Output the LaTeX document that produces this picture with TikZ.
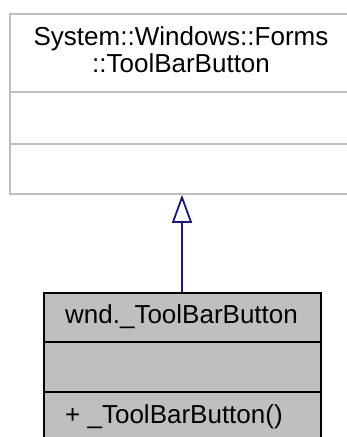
\documentclass[tikz,border=0pt]{standalone}
\usepackage{fontspec}
\setmainfont{Liberation Sans}
\usetikzlibrary{arrows.meta}
\definecolor{boxgray}{HTML}{BFBFBF}
\definecolor{edgenavy}{HTML}{191970}
\tikzset{
  basebox/.style={draw=boxgray, line width=1.8pt, fill=white, inner sep=0pt},
  derivedbox/.style={draw=black, line width=1.8pt, fill=boxgray, inner sep=0pt},
  lbl/.style={inner sep=0pt, anchor=base, font=\fontsize{26}{27}\selectfont},
  inherit/.style={draw=edgenavy, line width=1.8pt, -{Triangle[open, length=28pt, width=20pt, line width=1.8pt]}}
}
\begin{document}
\begin{tikzpicture}[x=1pt,y=-1pt]
\useasboundingbox (0,0) rectangle (347,437);
\clip (0,0) rectangle (347,437);
\fill[white] (0,0) rectangle (347,437);
% base class
\node[basebox, minimum width=344pt, minimum height=180pt, anchor=north west] (base) at (9,13) {};
\draw[boxgray, line width=1.8pt] (9,92) -- (353,92);
\draw[boxgray, line width=1.8pt] (9,144) -- (353,144);
\node[lbl] (bt1) at (181,45) {System::Windows::Forms};
\node[lbl] (bt2) at (181,72) {::ToolBarButton};
% derived class
\node[derivedbox, minimum width=277pt, minimum height=160pt, anchor=north west] (der) at (43,292) {};
\draw[black, line width=1.8pt] (43,342) -- (320,342);
\draw[black, line width=1.8pt] (43,392) -- (320,392);
\node[lbl] (dt1) at (181.5,323) {wnd.\_ToolBarButton};
\node[lbl, anchor=base west] (dt2) at (65,423) {+ \_ToolBarButton()};
% inheritance
\draw[inherit] (der.north -| 182,0) -- (base.south -| 182,0);
\end{tikzpicture}
\end{document}
